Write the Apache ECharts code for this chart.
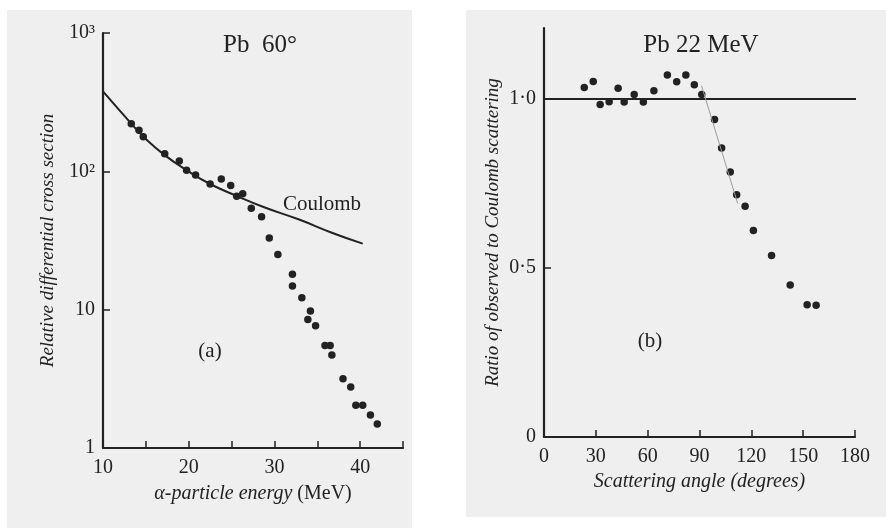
<!DOCTYPE html>
<html>
<head>
<meta charset="utf-8">
<script src="https://cdn.jsdelivr.net/npm/echarts@6/dist/echarts.min.js"></script>
<style>
  html, body { margin: 0; padding: 0; background: #fff; }
  #chart { width: 886px; height: 528px; }
</style>
</head>
<body>
<div id="chart"></div>
<script>
// (a) Pb 60°, cross section vs alpha energy
const coulombCurve = [[10, 378], [13.3, 221], [14.8, 176], [17.2, 131], [19.75, 102], [22.5, 81],
  [25.7, 66], [28.8, 55], [32.8, 45], [36.7, 36], [40.3, 30]];
const energyPoints = [
  [13.3, 221], [14.2, 198], [14.7, 178], [17.2, 134], [18.9, 119], [19.75, 102], [20.8, 94],
  [22.5, 81], [23.8, 88], [24.9, 79], [25.6, 66], [26.3, 69], [27.3, 54], [28.5, 47],
  [29.4, 33], [30.4, 25], [32.1, 18], [32.1, 14.8], [33.2, 12.2], [34.2, 9.8], [33.9, 8.5],
  [34.8, 7.65], [35.9, 5.5], [36.5, 5.5], [36.7, 4.7], [38.0, 3.17], [38.9, 2.76],
  [39.5, 2.04], [40.3, 2.04], [41.2, 1.73], [42.0, 1.49]
];
const energyLabels = { 10: '10', 20: '20', 30: '30', 40: '40' };
const sectionLabels = { 1: '1', 10: '10', 100: '10²', 1000: '10³' };

// (b) Pb 22 MeV, ratio vs scattering angle
const ratioPoints = [
  [23.3, 1.034], [28.5, 1.052], [32.5, 0.984], [37.7, 0.992], [42.9, 1.032], [46.4, 0.991],
  [52.2, 1.013], [57.5, 0.991], [63.6, 1.024], [71.4, 1.071], [76.8, 1.051], [82.1, 1.071],
  [87.0, 1.042], [91.3, 1.013], [98.7, 0.939], [102.8, 0.855], [107.8, 0.784], [111.5, 0.717],
  [116.4, 0.683], [121.2, 0.611], [131.7, 0.537], [142.5, 0.450], [152.3, 0.391], [157.5, 0.390]
];
const unityLine = [[0, 1], [183, 1]];
const fallLine = [[91.2, 1.039], [112.1, 0.691]];
const ratioTicks = [0, 0.5, 1];
const ratioLabels = { 0: '0', 0.5: '0·5', 1: '1·0' };

const ink = '#222';
const serif = 'Liberation Serif';

function axisBase() {
  return {
    axisLine: { lineStyle: { color: ink, width: 2.2 } },
    axisTick: { inside: true, length: 7, lineStyle: { color: ink, width: 1.5 } },
    splitLine: { show: false },
    axisLabel: { color: ink, fontFamily: serif, fontSize: 20 },
    nameTextStyle: { color: ink, fontFamily: serif, fontSize: 19, fontStyle: 'italic' }
  };
}

const chart = echarts.init(document.getElementById('chart'));

const xa = axisBase(), xb = axisBase(), ya = axisBase(), yb = axisBase();

chart.setOption({
  animation: false,
  backgroundColor: '#fff',
  graphic: [
    { type: 'rect', z: -10, shape: { x: 7, y: 10, width: 405, height: 518 }, style: { fill: '#efefef' } },
    { type: 'rect', z: -10, shape: { x: 466, y: 10, width: 420, height: 507 }, style: { fill: '#efefef' } },
    { type: 'text', x: 260, y: 45, style: { text: 'Pb  60°', font: '25px "Liberation Serif"', fill: ink, align: 'center', verticalAlign: 'middle' } },
    { type: 'text', x: 322, y: 204, style: { text: 'Coulomb', font: '21px "Liberation Serif"', fill: ink, align: 'center', verticalAlign: 'middle' } },
    { type: 'text', x: 210, y: 351, style: { text: '(a)', font: '21px "Liberation Serif"', fill: ink, align: 'center', verticalAlign: 'middle' } },
    { type: 'text', x: 701, y: 45, style: { text: 'Pb 22 MeV', font: '25px "Liberation Serif"', fill: ink, align: 'center', verticalAlign: 'middle' } },
    { type: 'text', x: 650, y: 341, style: { text: '(b)', font: '21px "Liberation Serif"', fill: ink, align: 'center', verticalAlign: 'middle' } }
  ],
  grid: [
    { left: 103, top: 33, width: 300, height: 415 },
    { left: 544, top: 28, width: 311, height: 409 }
  ],
  xAxis: [
    Object.assign(xa, {
      type: 'value', gridIndex: 0, min: 10, max: 45, interval: 5,
      name: '{i|α-particle energy} {n|(MeV)}', nameLocation: 'middle', nameGap: 36,
      nameTextStyle: {
        color: ink, fontFamily: serif, fontSize: 20,
        rich: {
          i: { fontFamily: serif, fontSize: 20, fontStyle: 'italic', color: ink },
          n: { fontFamily: serif, fontSize: 20, color: ink }
        }
      },
      axisLabel: Object.assign(xa.axisLabel, { margin: 10, formatter: v => energyLabels[v] || '' })
    }),
    Object.assign(xb, {
      type: 'value', gridIndex: 1, min: 0, max: 180, interval: 30,
      name: 'Scattering angle (degrees)', nameLocation: 'middle', nameGap: 34,
      nameTextStyle: Object.assign(xb.nameTextStyle, { fontSize: 20 }),
      axisLabel: Object.assign(xb.axisLabel, { margin: 10 })
    })
  ],
  yAxis: [
    Object.assign(ya, {
      type: 'log', logBase: 10, gridIndex: 0, min: 1, max: 1000,
      name: 'Relative differential cross section', nameLocation: 'middle', nameGap: 46,
      axisLabel: Object.assign(ya.axisLabel, { margin: 8, formatter: v => sectionLabels[Math.round(v)] || '' })
    }),
    Object.assign(yb, {
      type: 'value', gridIndex: 1, min: 0, max: 1.21,
      name: 'Ratio of observed to Coulomb scattering', nameLocation: 'middle', nameGap: 42,
      axisTick: Object.assign(yb.axisTick, { customValues: ratioTicks }),
      axisLabel: Object.assign(yb.axisLabel, {
        margin: 8, customValues: ratioTicks,
        formatter: v => ratioLabels[Math.round(v * 10) / 10] || ''
      })
    })
  ],
  series: [
    {
      type: 'line', xAxisIndex: 0, yAxisIndex: 0, data: coulombCurve, smooth: true,
      showSymbol: false, lineStyle: { color: ink, width: 2 }
    },
    {
      type: 'scatter', xAxisIndex: 0, yAxisIndex: 0, data: energyPoints,
      symbolSize: 7.5, itemStyle: { color: ink, opacity: 1 }
    },
    {
      type: 'line', xAxisIndex: 1, yAxisIndex: 1, data: unityLine, clip: false,
      showSymbol: false, lineStyle: { color: ink, width: 2 }
    },
    {
      type: 'line', xAxisIndex: 1, yAxisIndex: 1, data: fallLine,
      showSymbol: false, lineStyle: { color: '#9a9a9a', width: 1 }
    },
    {
      type: 'scatter', xAxisIndex: 1, yAxisIndex: 1, data: ratioPoints,
      symbolSize: 7.5, itemStyle: { color: ink, opacity: 1 }
    }
  ]
});
</script>
</body>
</html>
